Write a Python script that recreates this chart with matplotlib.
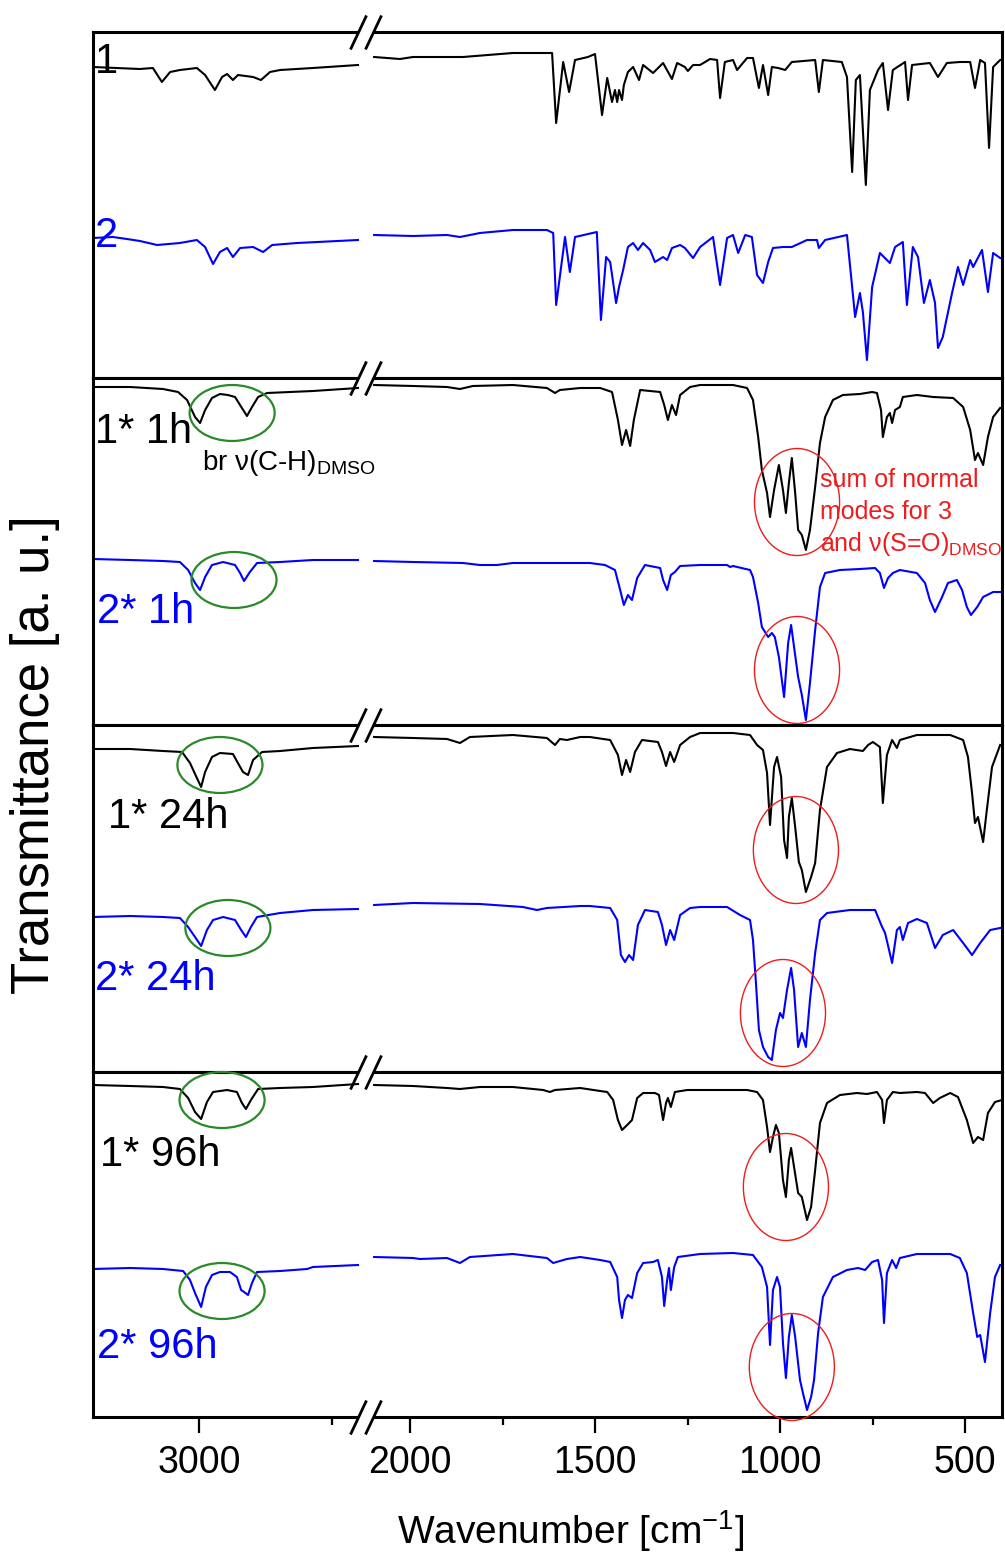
"""Stacked IR spectra with a broken wavenumber axis (4 panels)."""

import numpy as np
import matplotlib
matplotlib.use("Agg")
import matplotlib.pyplot as plt
from matplotlib.patches import Ellipse
from matplotlib.path import Path
from matplotlib.ticker import FixedLocator, NullFormatter
import matplotlib.transforms as mtransforms

plt.rcParams["font.family"] = ["Liberation Sans", "DejaVu Sans"]
plt.rcParams["mathtext.fontset"] = "custom"
plt.rcParams["mathtext.rm"] = "Liberation Sans"
plt.rcParams["mathtext.it"] = "Liberation Sans:italic"
plt.rcParams["mathtext.bf"] = "Liberation Sans:bold"

OUT_FILE = "out.png"
W_PX, H_PX = 1005, 1564

# axis range and break (cm-1)
X_MIN, X_MAX = 400, 3400
BREAK_LO, BREAK_HI = 2100, 2400
MAJOR_TICKS = [3000, 2000, 1500, 1000, 500]
MINOR_TICKS = [2500, 1750, 1250, 750]

BLACK = "#000000"
BLUE = "#0000ff"
GREEN = "#2a8a2a"
RED = "#ee1c1c"

# stacking offset of the upper trace in each panel
UPPER_OFFSET = 170

# ---- spectra: (wavenumber, transmittance a.u.) ----
S1 = [(3400, 141), (3223, 139), (3174, 140), (3140, 126), (3109, 136), (3072, 138),
      (3008, 140), (2977, 133), (2940, 118), (2913, 131), (2894, 134), (2872, 128),
      (2853, 133), (2796, 131), (2766, 128), (2732, 136), (2694, 138), (2570, 140),
      (2400, 143),
      (2097, 151), (2027, 149), (1992, 151), (1857, 151), (1722, 155), (1630, 155),
      (1616, 155), (1605, 85), (1586, 146), (1570, 116), (1554, 148), (1519, 151),
      (1500, 154), (1481, 93), (1467, 130), (1454, 106), (1446, 118), (1440, 106),
      (1435, 118), (1427, 108), (1422, 123), (1411, 136), (1397, 141), (1381, 128),
      (1370, 143), (1343, 135), (1316, 145), (1292, 129), (1278, 145), (1257, 141),
      (1249, 137), (1235, 143), (1216, 143), (1189, 149), (1170, 148), (1162, 110),
      (1149, 146), (1127, 148), (1116, 138), (1089, 150), (1073, 150), (1057, 120),
      (1046, 143), (1032, 113), (1022, 141), (1005, 140), (986, 138), (968, 146),
      (905, 148), (895, 116), (884, 148), (833, 146), (819, 131), (805, 36),
      (795, 128), (784, 133), (768, 23), (757, 118), (735, 138), (722, 145),
      (708, 98), (695, 138), (662, 146), (654, 108), (643, 143), (595, 145),
      (573, 131), (549, 145), (514, 146), (486, 146), (473, 120), (459, 148),
      (446, 145), (435, 60), (424, 141), (405, 148)]

S2 = [(3400, 140), (3325, 141), (3272, 139), (3223, 137), (3158, 133), (3072, 135),
      (3008, 138), (2977, 131), (2947, 114), (2921, 126), (2894, 130), (2872, 121),
      (2845, 130), (2796, 131), (2758, 126), (2724, 133), (2630, 135), (2400, 138),
      (2097, 143), (1992, 142), (1900, 143), (1865, 141), (1811, 145), (1722, 148),
      (1630, 148), (1613, 145), (1605, 73), (1581, 141), (1568, 106), (1554, 141),
      (1495, 146), (1484, 58), (1470, 121), (1459, 116), (1443, 75), (1435, 91),
      (1424, 108), (1411, 131), (1397, 135), (1384, 128), (1370, 135), (1351, 128),
      (1338, 116), (1316, 121), (1305, 118), (1292, 130), (1270, 133), (1257, 130),
      (1235, 120), (1216, 131), (1181, 141), (1162, 93), (1143, 140), (1127, 143),
      (1113, 125), (1094, 143), (1076, 141), (1062, 103), (1046, 95), (1032, 116),
      (1019, 130), (992, 131), (968, 131), (927, 138), (900, 138), (895, 130),
      (878, 138), (819, 143), (805, 91), (797, 61), (784, 85), (776, 66),
      (765, 18), (751, 91), (730, 125), (703, 115), (689, 131), (668, 136),
      (657, 73), (641, 131), (627, 121), (611, 75), (595, 98), (581, 75),
      (573, 30), (560, 41), (535, 85), (519, 111), (505, 93), (486, 118),
      (478, 111), (454, 128), (438, 86), (424, 125), (405, 120)]

S1_1H = [(3400, 168), (3260, 168), (3136, 166), (3079, 163), (3045, 155), (3015, 138),
         (2996, 132), (2977, 145), (2951, 157), (2921, 161), (2891, 160), (2864, 158),
         (2838, 147), (2819, 139), (2800, 148), (2777, 158), (2743, 162), (2570, 164),
         (2400, 167),
         (2097, 170), (1992, 169), (1900, 168), (1865, 166), (1830, 169), (1722, 170),
         (1630, 167), (1608, 162), (1595, 165), (1540, 167), (1486, 167), (1454, 163),
         (1438, 135), (1427, 110), (1416, 125), (1405, 109), (1395, 135), (1378, 165),
         (1324, 163), (1313, 150), (1303, 135), (1292, 150), (1281, 140), (1270, 160),
         (1243, 168), (1216, 170), (1127, 170), (1089, 167), (1073, 155), (1059, 118),
         (1049, 85), (1035, 62), (1027, 38), (1016, 65), (1003, 90), (992, 65),
         (984, 42), (976, 72), (968, 97), (959, 62), (951, 25), (941, 20), (930, 5),
         (919, 25), (905, 68), (892, 112), (878, 138), (857, 155), (830, 160),
         (784, 161), (751, 163), (738, 162), (727, 145), (722, 118), (711, 138),
         (703, 142), (697, 132), (689, 145), (676, 148), (668, 158), (630, 160),
         (586, 158), (532, 157), (505, 148), (486, 125), (473, 95), (465, 102),
         (451, 90), (438, 118), (424, 138), (405, 147)]

S2_1H = [(3400, 166), (3260, 165), (3136, 164), (3072, 163), (3041, 155), (3015, 142),
         (2996, 135), (2977, 148), (2951, 160), (2909, 163), (2864, 160), (2845, 152),
         (2830, 144), (2808, 153), (2781, 162), (2694, 163), (2570, 165), (2400, 165),
         (2097, 164), (1992, 163), (1857, 162), (1811, 160), (1765, 160), (1722, 162),
         (1630, 162), (1540, 162), (1514, 162), (1473, 160), (1446, 155), (1432, 135),
         (1422, 120), (1411, 130), (1400, 125), (1386, 147), (1365, 160), (1324, 157),
         (1316, 145), (1305, 135), (1295, 150), (1284, 153), (1270, 159), (1216, 160),
         (1143, 160), (1135, 158), (1127, 159), (1081, 155), (1073, 148), (1059, 122),
         (1049, 98), (1032, 88), (1022, 92), (1014, 88), (1003, 68), (989, 28),
         (978, 82), (970, 100), (962, 78), (951, 48), (941, 30), (930, 5), (919, 42),
         (905, 95), (892, 138), (878, 152), (838, 155), (784, 156), (743, 157),
         (730, 152), (719, 137), (708, 147), (695, 152), (676, 155), (630, 152),
         (608, 142), (595, 125), (581, 113), (562, 128), (546, 142), (522, 145),
         (508, 135), (495, 118), (484, 110), (467, 118), (451, 128), (424, 133),
         (405, 133)]

S1_24H = [(3400, 153), (3260, 153), (3136, 151), (3064, 150), (3034, 139), (3008, 124),
          (2992, 115), (2977, 130), (2951, 145), (2921, 149), (2872, 148), (2849, 137),
          (2834, 130), (2815, 127), (2796, 142), (2762, 150), (2694, 151), (2570, 154),
          (2400, 156),
          (2097, 165), (1992, 164), (1900, 163), (1865, 159), (1838, 165), (1722, 167),
          (1630, 164), (1608, 157), (1595, 163), (1576, 162), (1540, 165), (1514, 165),
          (1459, 162), (1438, 147), (1427, 127), (1416, 142), (1405, 130), (1392, 150),
          (1373, 162), (1330, 160), (1319, 150), (1308, 136), (1297, 150), (1286, 140),
          (1270, 157), (1243, 165), (1216, 169), (1127, 169), (1081, 167), (1062, 157),
          (1046, 152), (1035, 129), (1027, 77), (1016, 135), (1008, 145), (997, 125),
          (989, 62), (981, 44), (976, 85), (968, 104), (959, 75), (949, 40), (941, 32),
          (930, 10), (916, 25), (905, 39), (892, 92), (873, 135), (846, 149),
          (811, 153), (776, 151), (762, 157), (749, 160), (730, 155), (722, 99),
          (711, 147), (697, 162), (684, 154), (676, 162), (630, 167), (540, 167),
          (505, 162), (492, 145), (481, 109), (473, 79), (465, 85), (451, 60),
          (441, 92), (427, 135), (405, 157)]

S2_24H = [(3400, 155), (3260, 156), (3136, 155), (3072, 154), (3041, 145), (3015, 135),
          (2992, 126), (2970, 142), (2947, 152), (2909, 155), (2864, 152), (2841, 142),
          (2823, 135), (2804, 145), (2781, 155), (2694, 159), (2570, 162), (2400, 163),
          (2097, 167), (1992, 169), (1811, 168), (1695, 165), (1657, 162), (1630, 164),
          (1540, 166), (1514, 166), (1459, 164), (1440, 152), (1430, 117), (1419, 110),
          (1408, 117), (1397, 112), (1384, 147), (1365, 162), (1330, 160), (1319, 147),
          (1308, 127), (1297, 142), (1286, 132), (1270, 157), (1243, 164), (1216, 165),
          (1143, 165), (1130, 162), (1108, 157), (1081, 152), (1073, 132), (1065, 89),
          (1057, 42), (1046, 25), (1032, 15), (1022, 12), (1011, 42), (1000, 59),
          (992, 54), (981, 82), (970, 104), (962, 82), (951, 25), (941, 39), (930, 25),
          (919, 72), (905, 119), (892, 152), (873, 159), (811, 162), (743, 162),
          (724, 145), (716, 139), (697, 109), (684, 142), (676, 145), (668, 132),
          (654, 149), (630, 153), (603, 149), (581, 124), (560, 137), (532, 142),
          (505, 129), (481, 117), (459, 129), (432, 142), (405, 144)]

S1_96H = [(3400, 162), (3260, 161), (3136, 160), (3072, 158), (3041, 149), (3015, 135),
          (2992, 128), (2970, 145), (2947, 155), (2894, 157), (2857, 155), (2838, 144),
          (2823, 138), (2804, 147), (2777, 158), (2694, 159), (2570, 160), (2400, 163),
          (2097, 162), (1992, 161), (1900, 159), (1865, 158), (1811, 160), (1722, 160),
          (1640, 157), (1622, 155), (1608, 157), (1540, 159), (1486, 156), (1467, 155),
          (1451, 147), (1438, 127), (1427, 117), (1413, 122), (1400, 127), (1386, 149),
          (1370, 154), (1338, 154), (1327, 152), (1316, 127), (1308, 144), (1303, 149),
          (1295, 140), (1284, 155), (1251, 157), (1089, 157), (1062, 155), (1046, 147),
          (1035, 120), (1027, 95), (1019, 110), (1011, 122), (1003, 114), (992, 67),
          (984, 50), (976, 87), (970, 99), (962, 80), (951, 54), (941, 50), (927, 27),
          (916, 40), (905, 77), (892, 124), (873, 144), (838, 152), (792, 154),
          (765, 153), (738, 155), (724, 147), (719, 124), (711, 147), (695, 155),
          (676, 154), (630, 155), (608, 154), (586, 144), (568, 149), (540, 154),
          (519, 150), (495, 127), (478, 104), (465, 110), (451, 107), (438, 134),
          (419, 145), (400, 147)]

S2_96H = [(3400, 148), (3260, 149), (3136, 148), (3060, 146), (3034, 137), (3015, 124),
          (2992, 110), (2974, 130), (2951, 142), (2921, 145), (2883, 145), (2857, 140),
          (2841, 127), (2830, 125), (2815, 122), (2800, 134), (2781, 145), (2694, 146),
          (2592, 148), (2570, 150), (2400, 152),
          (2097, 160), (1992, 159), (1973, 158), (1900, 159), (1865, 154), (1838, 160),
          (1722, 163), (1630, 159), (1613, 154), (1576, 158), (1540, 160), (1486, 157),
          (1459, 155), (1440, 140), (1435, 117), (1427, 99), (1419, 117), (1411, 122),
          (1400, 119), (1386, 144), (1370, 154), (1343, 155), (1330, 157), (1319, 140),
          (1313, 111), (1305, 137), (1300, 149), (1295, 127), (1286, 150), (1276, 160),
          (1216, 163), (1127, 164), (1073, 162), (1049, 150), (1035, 130), (1027, 72),
          (1019, 127), (1008, 140), (1000, 130), (992, 74), (984, 39), (976, 80),
          (968, 102), (959, 80), (946, 37), (938, 24), (927, 7), (916, 20), (908, 37),
          (897, 84), (884, 120), (857, 140), (819, 147), (789, 149), (770, 147),
          (751, 155), (735, 157), (724, 137), (719, 94), (711, 144), (697, 157),
          (686, 149), (676, 159), (630, 163), (540, 163), (514, 159), (495, 144),
          (478, 104), (467, 80), (459, 82), (446, 55), (432, 104), (419, 140),
          (405, 152)]

# panels: (upper trace, upper label, lower trace, lower label)
PANEL_TRACES = [(S1, "1", S2, "2"),
                (S1_1H, "1* 1h", S2_1H, "2* 1h"),
                (S1_24H, "1* 24h", S2_24H, "2* 24h"),
                (S1_96H, "1* 96h", S2_96H, "2* 96h")]

# label anchors (wavenumber, value) for upper / lower trace names
LABEL_POS = [((3392, 305), (3392, 131)),
             ((3392, 282), (3385, 102)),
             ((3343, 244), (3392, 82)),
             ((3374, 251), (3385, 59))]

# annotation ellipses: centre (wavenumber, value) for upper / lower trace
GREEN_ELL = [None,
             ((2875, 312), (2868, 145)),
             ((2921, 307), (2891, 144)),
             ((2913, 317), (2913, 126))]
RED_ELL = [None,
           ((954, 223), (954, 55)),
           ((957, 222), (992, 59)),
           ((984, 230), (968, 50))]
GREEN_SIZE = (321, 56)
RED_SIZE = (230, 107)

# panel edges in pixels (top of each panel, bottom of last)
PANEL_EDGES = [32, 378, 725, 1072, 1417]
AX_LEFT, AX_RIGHT = 93, 1002

# broken-axis scale: pixel widths of the two segments and the gap
SEG_RIGHT_PX, GAP_PX, SEG_LEFT_PX = 629.0, 15.0, 265.0


def _rates():
    r = SEG_RIGHT_PX / (BREAK_LO - X_MIN)
    g = GAP_PX / (BREAK_HI - BREAK_LO)
    l = SEG_LEFT_PX / (X_MAX - BREAK_HI)
    return r, g, l


def _fwd(w):
    w = np.asarray(w, dtype=float)
    r, g, l = _rates()
    u1 = SEG_RIGHT_PX
    u2 = SEG_RIGHT_PX + GAP_PX
    return np.where(w <= BREAK_LO, (w - X_MIN) * r,
                    np.where(w <= BREAK_HI, u1 + (w - BREAK_LO) * g,
                             u2 + (w - BREAK_HI) * l))


def _inv(u):
    u = np.asarray(u, dtype=float)
    r, g, l = _rates()
    u1 = SEG_RIGHT_PX
    u2 = SEG_RIGHT_PX + GAP_PX
    return np.where(u <= u1, X_MIN + u / r,
                    np.where(u <= u2, BREAK_LO + (u - u1) / g,
                             BREAK_HI + (u - u2) / l))


def plot_trace(ax, pts, offset, color):
    arr = np.array(pts, dtype=float)
    w, v = arr[:, 0], arr[:, 1] + offset
    for mask in (w >= BREAK_HI, w <= BREAK_LO):
        ax.plot(w[mask], v[mask], color=color, lw=1.5, solid_joinstyle="round")


def break_marks(ax, yfrac):
    blend = mtransforms.blended_transform_factory(ax.transData, ax.transAxes)
    ax.plot([BREAK_HI, BREAK_LO], [yfrac, yfrac], color="white", lw=4,
            transform=blend, clip_on=False, zorder=6, solid_capstyle="butt")
    slash = Path([(-8, -17), (8, 17)], [Path.MOVETO, Path.LINETO])
    ax.plot([BREAK_HI, BREAK_LO], [yfrac, yfrac], ls="none", marker=slash,
            markersize=24.5, mew=2.0, color=BLACK, transform=blend,
            clip_on=False, zorder=7)


def main():
    fig = plt.figure(figsize=(W_PX / 100, H_PX / 100), dpi=100)
    axes = []
    for i, (up, up_lab, lo, lo_lab) in enumerate(PANEL_TRACES):
        top, bot = PANEL_EDGES[i], PANEL_EDGES[i + 1]
        ax = fig.add_axes([AX_LEFT / W_PX, 1 - bot / H_PX,
                           (AX_RIGHT - AX_LEFT) / W_PX, (bot - top) / H_PX])
        ax.set_xscale("function", functions=(_fwd, _inv))
        ax.set_xlim(X_MAX, X_MIN)
        ax.set_ylim(0, bot - top)
        for sp in ax.spines.values():
            sp.set_linewidth(2.2)

        plot_trace(ax, up, UPPER_OFFSET, BLACK)
        plot_trace(ax, lo, 0, BLUE)

        (ux, uy), (lx, ly) = LABEL_POS[i]
        ax.text(ux, uy, up_lab, color=BLACK, fontsize=30, va="baseline",
                ha="left", zorder=8)
        ax.text(lx, ly, lo_lab, color=BLUE, fontsize=30, va="baseline",
                ha="left", zorder=8)

        if GREEN_ELL[i] is not None:
            for cx, cy in GREEN_ELL[i]:
                ax.add_patch(Ellipse((cx, cy), GREEN_SIZE[0], GREEN_SIZE[1],
                                     fill=False, ec=GREEN, lw=1.6,
                                     clip_on=False, zorder=5))
            for cx, cy in RED_ELL[i]:
                ax.add_patch(Ellipse((cx, cy), RED_SIZE[0], RED_SIZE[1],
                                     fill=False, ec=RED, lw=1.0,
                                     clip_on=False, zorder=5))

        ax.xaxis.set_major_locator(FixedLocator(MAJOR_TICKS))
        ax.xaxis.set_minor_locator(FixedLocator(MINOR_TICKS))
        ax.xaxis.set_minor_formatter(NullFormatter())
        ax.set_yticks([])
        if i < len(PANEL_TRACES) - 1:
            ax.tick_params(axis="x", which="both", bottom=False,
                           labelbottom=False)
        else:
            ax.tick_params(axis="x", which="major", direction="out",
                           length=11.5, width=1.6, labelsize=27, pad=9)
            ax.tick_params(axis="x", which="minor", direction="out",
                           length=5.8, width=1.6)
            ax.set_xlabel(r"Wavenumber [cm$^{\mathrm{-1}}$]", fontsize=28)
            ax.xaxis.set_label_coords(0.525, -0.265)
        axes.append(ax)

    # break marks on every horizontal frame line
    for ax in axes:
        break_marks(ax, 1.0)
    break_marks(axes[-1], 0.0)

    # annotations in panel 2
    ax2 = axes[1]
    ax2.text(2989, 255, "br \u03bd(C-H)$_{\\mathrm{DMSO}}$", fontsize=20,
             color=BLACK, va="baseline", ha="left", zorder=8)
    red_lines = ["sum of normal", "modes for 3",
                 "and \u03bd(S=O)$_{\\mathrm{DMSO}}$"]
    for k, line in enumerate(red_lines):
        ax2.text(892, 245 - 32 * k, line, fontsize=18, color=RED,
                 va="center", ha="left", zorder=8)

    fig.text(35 / W_PX, 1 - 755 / H_PX, "Transmittance [a. u.]", fontsize=38,
             rotation=90, ha="center", va="center")

    fig.savefig(OUT_FILE, dpi=100)
    plt.close(fig)


if __name__ == "__main__":
    main()
